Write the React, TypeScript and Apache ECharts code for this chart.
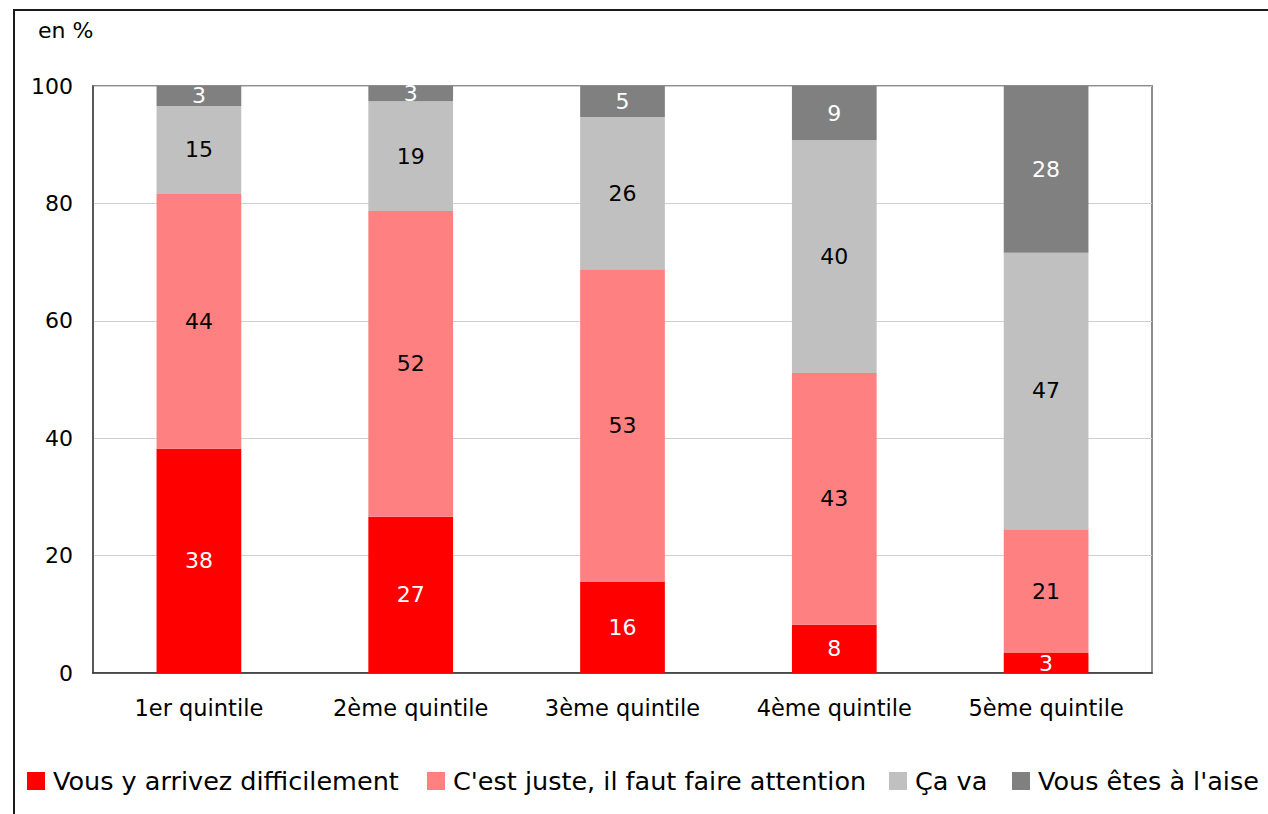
import React, { useEffect, useRef } from "react";
import * as echarts from "echarts";

const categories = ["1er quintile", "2ème quintile", "3ème quintile", "4ème quintile", "5ème quintile"];
const seriesNames = [
  "Vous y arrivez difficilement",
  "C'est juste, il faut faire attention",
  "Ça va",
  "Vous êtes à l'aise",
];
const difficilement = [38.2, 26.6, 15.5, 8.2, 3.4];
const juste = [43.4, 52.1, 53.3, 42.9, 21.1];
const cava = [15.0, 18.7, 25.9, 39.7, 47.1];
const aise = [3.4, 2.6, 5.3, 9.2, 28.4];
const labelsDifficilement = [38, 27, 16, 8, 3];
const labelsJuste = [44, 52, 53, 43, 21];
const labelsCava = [15, 19, 26, 40, 47];
const labelsAise = [3, 3, 5, 9, 28];
const yTicks = [0, 20, 40, 60, 80, 100];

const FONT = "DejaVu Sans";

export default function App() {
  const ref = useRef<HTMLDivElement>(null);
  useEffect(() => {
    if (!ref.current) return;
    const chart = echarts.init(ref.current, undefined, { renderer: "svg" });
    const values = [difficilement, juste, cava, aise];
    const labels = [labelsDifficilement, labelsJuste, labelsCava, labelsAise];
    const colors = ["#FF0000", "#FF8080", "#C0C0C0", "#808080"];
    const labelColors = ["#ffffff", "#000000", "#000000", "#ffffff"];
    const legendLefts = [27, 427, 889, 1012];
    chart.setOption({
      animation: false,
      backgroundColor: "#ffffff",
      grid: {
        left: 93,
        right: 116,
        top: 86,
        bottom: 141,
        show: true,
        borderColor: "#8c8c8c",
        borderWidth: 2,
        backgroundColor: "transparent",
      },
      graphic: [
        {
          type: "rect",
          shape: { x: 14, y: 10, width: 1400, height: 1000 },
          style: { fill: "none", stroke: "#1a1a1a", lineWidth: 2 },
          silent: true,
        },
        {
          type: "text",
          left: 38,
          top: 19,
          style: { text: "en %", font: `22px '${FONT}'`, fill: "#000" },
        },
      ],
      legend: seriesNames.map((n, i) => ({
        data: [n],
        left: legendLefts[i],
        top: 768,
        padding: 0,
        itemWidth: 18,
        itemHeight: 18,
        icon: "rect",
        textStyle: { fontFamily: FONT, fontSize: 25.5, color: "#000", padding: [0, 0, 0, 3] },
        selectedMode: false,
      })),
      xAxis: {
        type: "category",
        data: categories,
        axisLine: { lineStyle: { color: "#333", width: 1.5 } },
        axisTick: { show: false },
        axisLabel: { fontFamily: FONT, fontSize: 22.5, color: "#000", margin: 23 },
      },
      yAxis: {
        type: "value",
        min: 0,
        max: 100,
        interval: 20,
        axisLine: { show: true, lineStyle: { color: "#444", width: 1.5 } },
        axisTick: { show: false },
        splitLine: { lineStyle: { color: "#cfcfcf", width: 1 } },
        axisLabel: {
          fontFamily: FONT,
          fontSize: 22,
          color: "#000",
          margin: 20,
          formatter: (v: number) => (yTicks.includes(v) ? String(v) : ""),
        },
      },
      series: seriesNames.map((n, i) => ({
        name: n,
        type: "bar",
        stack: "total",
        barWidth: "40%",
        data: values[i],
        itemStyle: { color: colors[i] },
        label: {
          show: true,
          position: "inside",
          fontFamily: FONT,
          fontSize: 22,
          color: labelColors[i],
          formatter: (p: any) => String(labels[i][p.dataIndex]),
        },
      })),
    });
    return () => chart.dispose();
  }, []);
  return (
    <div
      ref={ref}
      style={{ position: "fixed", left: 0, top: 0, width: 1268, height: 814, background: "#fff" }}
    />
  );
}
